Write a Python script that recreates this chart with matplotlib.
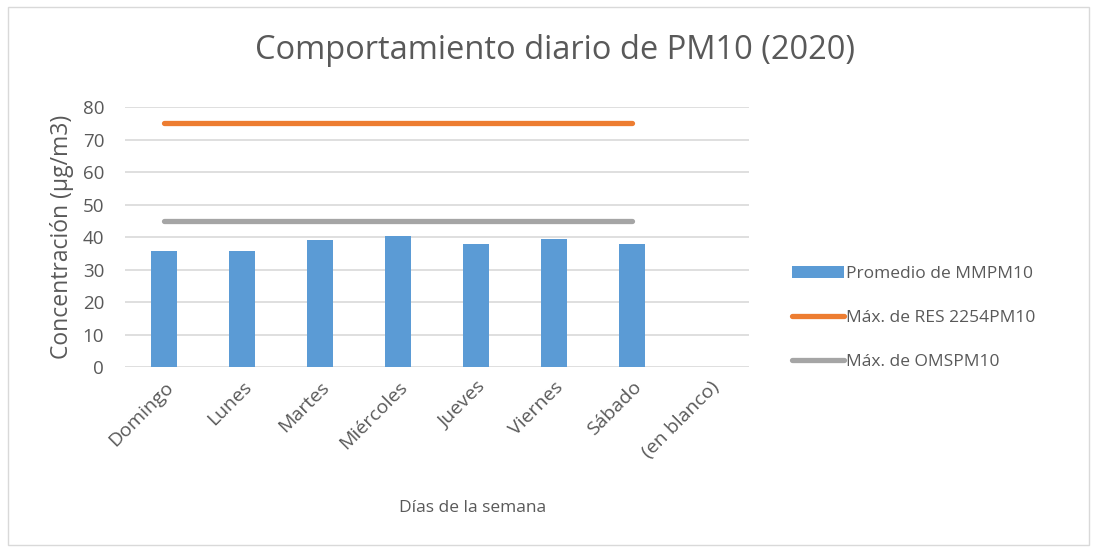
import numpy as np
import matplotlib.pyplot as plt
from matplotlib.patches import Rectangle

# datos
dias = ['Domingo', 'Lunes', 'Martes', 'Miércoles', 'Jueves', 'Viernes', 'Sábado', '(en blanco)']
promedio = [35.8, 35.6, 39.1, 40.3, 38.0, 39.3, 37.8]
res2254 = [75, 75, 75, 75, 75, 75, 75]
oms = [45, 45, 45, 45, 45, 45, 45]

plt.rcParams['font.family'] = ['Open Sans', 'DejaVu Sans']
gris_txt = '#595959'

fig = plt.figure(figsize=(10.97, 5.52), dpi=100)
ax = fig.add_axes([0.114, 0.335, 0.569, 0.471])

x = np.arange(len(dias))
xd = x[:len(promedio)]
barras = ax.bar(xd, promedio, width=0.33, color='#5b9bd5', label='Promedio de MMPM10', zorder=3)
l1, = ax.plot(xd, res2254, color='#ed7d31', lw=3.8, solid_capstyle='round', label='Máx. de RES 2254PM10', zorder=4)
l2, = ax.plot(xd, oms, color='#a5a5a5', lw=3.8, solid_capstyle='round', label='Máx. de OMSPM10', zorder=4)

ax.set_xlim(-0.5, len(dias) - 0.5)
ax.set_ylim(0, 80)
ax.set_yticks(range(0, 81, 10))
ax.set_xticks(x)
ax.set_xticklabels(dias, rotation=45, ha='right', rotation_mode='anchor')
ax.tick_params(axis='both', length=0, labelcolor=gris_txt)
ax.tick_params(axis='y', pad=15, labelsize=13.5)
ax.tick_params(axis='x', pad=8, labelsize=14)
ax.grid(axis='y', color='#d9d9d9', lw=1.2, zorder=0)
for s in ax.spines.values():
    s.set_visible(False)

ax.set_ylabel('Concentración (µg/m3)', fontsize=16.5, color=gris_txt, labelpad=6)
fig.text(0.431, 0.08, 'Días de la semana', fontsize=12.5, color=gris_txt, ha='center', va='center')
fig.text(0.506, 0.908, 'Comportamiento diario de PM10 (2020)', fontsize=23.5, color=gris_txt, ha='center', va='center')

fig.legend(handles=[barras, l1, l2], loc='center left', bbox_to_anchor=(0.708, 0.424), frameon=False,
           fontsize=12.5, labelcolor=gris_txt, handlelength=3.0, handletextpad=0.1, labelspacing=1.6)

# borde del grafico
fig.patches.append(Rectangle((0.007, 0.013), 0.986, 0.975, transform=fig.transFigure,
                             fill=False, edgecolor='#d9d9d9', lw=1))

fig.savefig('out.png', dpi=100)
